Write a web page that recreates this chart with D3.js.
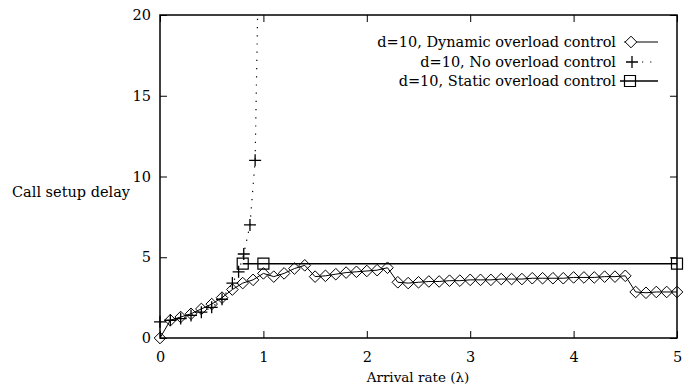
<!DOCTYPE html>
<html>
<head>
<meta charset="utf-8">
<script src="https://cdn.jsdelivr.net/npm/d3@7"></script>
<style>
  html, body { margin: 0; padding: 0; background: #fff; }
  svg { display: block; }
  text { font-family: "DejaVu Serif", "Liberation Serif", serif; fill: #000; }
</style>
</head>
<body>
<svg id="chart" width="689" height="387"></svg>
<script>
// ---- Data ----
const dynX = [0,0.1,0.2,0.3,0.4,0.5,0.6,0.7,0.8,0.9,1.0,1.1,1.2,1.3,1.4,1.5,1.6,1.7,1.8,1.9,2.0,2.1,2.2,2.3,2.4,2.5,2.6,2.7,2.8,2.9,3.0,3.1,3.2,3.3,3.4,3.5,3.6,3.7,3.8,3.9,4.0,4.1,4.2,4.3,4.4,4.5,4.6,4.7,4.8,4.9,5.0];
const dynY = [0,1.1,1.3,1.5,1.8,2.1,2.5,3.0,3.4,3.6,4.0,3.8,4.0,4.3,4.5,3.8,3.85,3.95,4.05,4.1,4.15,4.2,4.35,3.45,3.4,3.45,3.5,3.5,3.55,3.55,3.6,3.6,3.6,3.65,3.65,3.65,3.7,3.7,3.7,3.7,3.75,3.75,3.75,3.8,3.8,3.85,2.85,2.8,2.85,2.85,2.85];

const noX = [0,0.1,0.2,0.3,0.4,0.5,0.6,0.7,0.76,0.81,0.87,0.92,0.96];
const noY = [1.0,1.1,1.2,1.4,1.6,1.9,2.4,3.4,4.1,5.2,7.0,11.0,26.0];

const stX = [0.8,1.0,5.0];
const stY = [4.6,4.6,4.6];

const xTicks = [0,1,2,3,4,5];
const yTicks = [0,5,10,15,20];

const seriesLabels = [
  "d=10, Dynamic overload control",
  "d=10, No overload control",
  "d=10, Static overload control"
];
const xTitle = "Arrival rate (\u03BB)";
const yTitle = "Call setup delay";

// ---- Layout ----
const L = 160, R = 677, T = 15, B = 338;
const FONT = '"DejaVu Serif", "Liberation Serif", serif';
const svg = d3.select("#chart");
const x = d3.scaleLinear().domain([0,5]).range([L,R]);
const y = d3.scaleLinear().domain([0,20]).range([B,T]);

svg.append("defs").append("clipPath").attr("id","clip")
  .append("rect").attr("x",L).attr("y",T).attr("width",R-L).attr("height",B-T);

const tickLen = 7;
const fs = 14.5;
const styleAxis = g => { g.select(".domain").remove(); g.attr("font-family",FONT); g.selectAll("text").attr("font-size",fs).attr("fill","#000"); g.selectAll("line").attr("stroke","#000"); };
svg.append("g").attr("transform",`translate(0,${B})`)
  .call(d3.axisBottom(x).tickValues(xTicks).tickSize(-tickLen).tickPadding(14).tickFormat(d3.format("d")))
  .call(styleAxis);
svg.append("g").attr("transform",`translate(0,${T})`)
  .call(d3.axisTop(x).tickValues(xTicks).tickSize(-tickLen).tickFormat(""))
  .call(styleAxis);
svg.append("g").attr("transform",`translate(${L},0)`)
  .call(d3.axisLeft(y).tickValues(yTicks).tickSize(-tickLen).tickPadding(9).tickFormat(d3.format("d")))
  .call(styleAxis);
svg.append("g").attr("transform",`translate(${R},0)`)
  .call(d3.axisRight(y).tickValues(yTicks).tickSize(-tickLen).tickFormat(""))
  .call(styleAxis);

svg.append("rect").attr("x",L).attr("y",T).attr("width",R-L).attr("height",B-T)
  .attr("fill","none").attr("stroke","#000").attr("stroke-width",1.5);

svg.append("text").attr("x",418).attr("y",382).attr("text-anchor","middle").attr("font-size",13.5).attr("font-family",FONT).text(xTitle);
svg.append("text").attr("x",12).attr("y",197).attr("font-size",fs).attr("font-family",FONT).text(yTitle);

const diamond = (cx,cy,s=5.8) => `M${cx-s},${cy}L${cx},${cy-s}L${cx+s},${cy}L${cx},${cy+s}Z`;
const plus = (cx,cy,s=6) => `M${cx-s},${cy}H${cx+s}M${cx},${cy-s}V${cy+s}`;
const square = (cx,cy,s=5.5) => `M${cx-s},${cy-s}H${cx+s}V${cy+s}H${cx-s}Z`;

const line = d3.line().x(d => x(d[0])).y(d => y(d[1]));
const plot = svg.append("g").attr("clip-path","url(#clip)");
const markers = svg.append("g");

const dyn = dynX.map((v,i)=>[v,dynY[i]]);
const no = noX.map((v,i)=>[v,noY[i]]);
const st = stX.map((v,i)=>[v,stY[i]]);

plot.append("path").attr("d",line(no)).attr("fill","none").attr("stroke","#000").attr("stroke-width",1.2).attr("stroke-dasharray","1.2,7");
plot.append("path").attr("d",line(st)).attr("fill","none").attr("stroke","#000").attr("stroke-width",1.5);
plot.append("path").attr("d",line(dyn)).attr("fill","none").attr("stroke","#000").attr("stroke-width",1);

markers.selectAll("path.dm").data(dyn).join("path").attr("class","dm")
  .attr("d",d=>diamond(x(d[0]),y(d[1]))).attr("fill","none").attr("stroke","#000").attr("stroke-width",1);
markers.selectAll("path.pl").data(no.filter(d=>d[1]<=20)).join("path").attr("class","pl")
  .attr("d",d=>plus(x(d[0]),y(d[1]))).attr("fill","none").attr("stroke","#000").attr("stroke-width",1.3);
markers.selectAll("path.sq").data(st).join("path").attr("class","sq")
  .attr("d",d=>square(x(d[0]),y(d[1]))).attr("fill","none").attr("stroke","#000").attr("stroke-width",1.2);

const legY = [42,62,81];
const lg = svg.append("g");
seriesLabels.forEach((t,i)=>{
  lg.append("text").attr("x",616).attr("y",legY[i]).attr("dy","0.35em").attr("text-anchor","end").attr("font-size",fs).attr("font-family",FONT).text(t);
  const ly = legY[i];
  const seg = lg.append("path").attr("d",`M624,${ly}H658`).attr("fill","none").attr("stroke","#000");
  if (i===0) { seg.attr("stroke-width",1); lg.append("path").attr("d",diamond(631,ly)).attr("fill","#fff").attr("stroke","#000"); }
  if (i===1) { seg.attr("stroke-width",1.2).attr("stroke-dasharray","1.2,7").attr("d",`M642,${ly}H658`); lg.append("path").attr("d",plus(632,ly)).attr("stroke","#000").attr("stroke-width",1.3); }
  if (i===2) { seg.attr("stroke-width",1.5).attr("d",`M620,${ly}H658`); lg.append("path").attr("d",square(630,ly)).attr("fill","none").attr("stroke","#000").attr("stroke-width",1.2); }
});
</script>
</body>
</html>
